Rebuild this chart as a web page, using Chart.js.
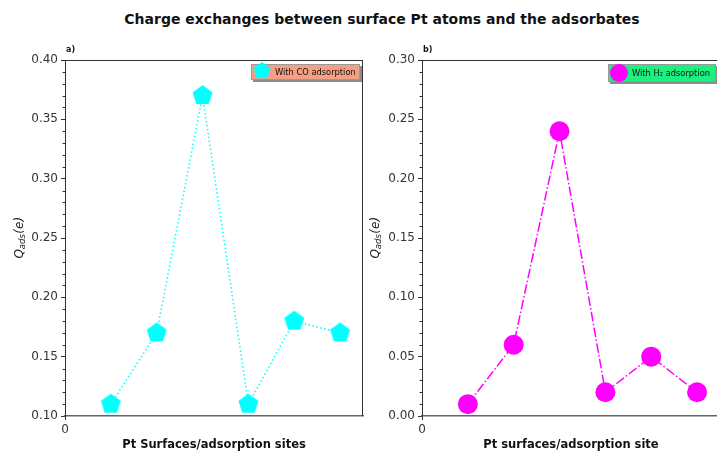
<!DOCTYPE html>
<html>
<head>
<meta charset="utf-8">
<script src="https://cdn.jsdelivr.net/npm/chart.js@4"></script>
<style>
  html, body { margin: 0; padding: 0; background: #fff; width: 717px; height: 452px; overflow: hidden; position: relative; font-family: "DejaVu Sans", sans-serif; }
  #title { position: absolute; left: 0; width: 764px; top: 11px; text-align: center; font-weight: bold; font-size: 14px; color: #111; }
  .box { position: absolute; top: 0; height: 452px; width: 375px; }
</style>
</head>
<body>
<div id="title">Charge exchanges between surface Pt atoms and the adsorbates</div>
<div class="box" style="left:0"><canvas id="chartA"></canvas></div>
<div class="box" style="left:355px"><canvas id="chartB"></canvas></div>

<script>
// data
const sites = [1, 2, 3, 4, 5, 6];
const coCharge = [0.11, 0.17, 0.37, 0.11, 0.18, 0.17];
const h2Charge = [0.01, 0.06, 0.24, 0.02, 0.05, 0.02];
const xTicks = [0];
const coTicks = [0.10, 0.15, 0.20, 0.25, 0.30, 0.35, 0.40];
const h2Ticks = [0.00, 0.05, 0.10, 0.15, 0.20, 0.25, 0.30];

Chart.defaults.font.family = "'DejaVu Sans', sans-serif";
Chart.defaults.font.size = 12;
Chart.defaults.color = "#333";

function pentagon(r, color) {
    let s = Math.ceil(2 * r) + 2;
    let c = document.createElement("canvas");
    c.width = s; c.height = s;
    let g = c.getContext("2d");
    g.fillStyle = color;
    g.beginPath();
    for (let i = 0; i < 5; i++) {
        let a = -Math.PI / 2 + i * 2 * Math.PI / 5;
        let x = s / 2 + r * Math.cos(a), y = s / 2 + r * Math.sin(a);
        i ? g.lineTo(x, y) : g.moveTo(x, y);
    }
    g.closePath();
    g.fill();
    return c;
}

const pentBig = pentagon(10.5, "#00ffff");
const pentSmall = pentagon(9, "#00ffff");

// spines, minor ticks, panel label, y title and legend
const decor = {
    id: "decor",
    afterDraw(chart, args, o) {
        const ctx = chart.ctx;
        const a = chart.chartArea;
        const y = chart.scales.y;
        ctx.save();

        ctx.strokeStyle = "#333";
        ctx.lineWidth = 1;
        ctx.beginPath();
        ctx.moveTo(a.left, a.top + 0.5);
        ctx.lineTo(a.right, a.top + 0.5);
        ctx.moveTo(a.right - 0.5, a.top);
        ctx.lineTo(a.right - 0.5, a.bottom);
        ctx.stroke();

        // minor ticks
        ctx.beginPath();
        for (let k = 0; k <= 30; k++) {
            if (k % 5 === 0) continue;
            let v = y.min + k * 0.01;
            let py = Math.round(y.getPixelForValue(v)) + 0.5;
            ctx.moveTo(a.left - 2.5, py);
            ctx.lineTo(a.left, py);
        }
        ctx.stroke();

        // panel label
        ctx.fillStyle = "#111";
        ctx.font = "bold 8px 'DejaVu Sans'";
        ctx.textAlign = "left";
        ctx.textBaseline = "alphabetic";
        ctx.fillText(o.label, a.left + 1, a.top - 8);

        // y title Q_ads(e)
        ctx.translate(a.left - o.titleOff, (a.top + a.bottom) / 2);
        ctx.rotate(-Math.PI / 2);
        const fBig = "italic 12px 'DejaVu Sans'", fSub = "italic 8.5px 'DejaVu Sans'";
        ctx.font = fBig; let w1 = ctx.measureText("Q").width;
        ctx.font = fSub; let w2 = ctx.measureText("ads").width;
        ctx.font = fBig; let w3 = ctx.measureText("(e)").width;
        let x0 = -(w1 + w2 + w3) / 2;
        ctx.fillStyle = "#222";
        ctx.textBaseline = "middle";
        ctx.font = fBig; ctx.fillText("Q", x0, 0);
        ctx.font = fSub; ctx.fillText("ads", x0 + w1, 3);
        ctx.font = fBig; ctx.fillText("(e)", x0 + w1 + w2 + 0.5, 0);
        ctx.setTransform(1, 0, 0, 1, 0, 0);

        // legend box
        const L = o.legend;
        let bx = a.right - L.right - L.w, by = a.top + 4;
        ctx.fillStyle = "rgba(0,0,0,0.45)";
        ctx.fillRect(bx + 2, by + 2, L.w, L.h);
        ctx.fillStyle = L.fill;
        ctx.fillRect(bx, by, L.w, L.h);
        ctx.strokeStyle = "#999";
        ctx.strokeRect(bx + 0.5, by + 0.5, L.w - 1, L.h - 1);
        let mx = bx + 11, my = by + L.h / 2;
        if (L.marker === "pentagon") {
            ctx.drawImage(pentSmall, mx - pentSmall.width / 2, my - pentSmall.height / 2 - 1);
        } else {
            ctx.fillStyle = "#ff00ff";
            ctx.beginPath();
            ctx.arc(mx, my, 9, 0, Math.PI * 2);
            ctx.fill();
        }
        ctx.fillStyle = "#111";
        ctx.font = "8.3px 'DejaVu Sans'";
        ctx.textBaseline = "middle";
        ctx.textAlign = "left";
        ctx.fillText(L.text, bx + 24, my + 0.5);
        ctx.restore();
    }
};

function makeChart(id, values, yTicks, opt) {
    return new Chart(document.getElementById(id), {
        type: "line",
        data: {
            datasets: [{
                data: sites.map((s, i) => ({ x: s, y: values[i] })),
                borderColor: opt.color,
                borderWidth: 1.5,
                borderDash: opt.dash,
                backgroundColor: opt.color,
                pointStyle: opt.point,
                pointRadius: 10,
                pointBorderWidth: 0,
                pointBackgroundColor: opt.color,
                tension: 0,
                fill: false
            }]
        },
        options: {
            responsive: true,
            maintainAspectRatio: false,
            animation: false,
            events: [],
            layout: { padding: { left: 0, right: opt.padRight, top: 60, bottom: 0 } },
            plugins: {
                legend: { display: false },
                tooltip: { enabled: false },
                decor: opt.decor
            },
            scales: {
                x: {
                    type: "linear",
                    min: 0, max: 6.5,
                    afterBuildTicks: s => { s.ticks = xTicks.map(v => ({ value: v })); },
                    afterFit: s => { s.height = 36; },
                    ticks: { color: "#333", padding: 3, callback: v => String(v) },
                    grid: { drawOnChartArea: false, tickLength: 4, tickColor: "#333" },
                    border: { color: "#666", width: 1.5 },
                    title: {
                        display: true, text: opt.xTitle, color: "#111",
                        font: { weight: "bold", size: 11.5 }, padding: { top: 2, bottom: 0 }
                    }
                },
                y: {
                    min: yTicks[0], max: yTicks[yTicks.length - 1],
                    afterBuildTicks: s => { s.ticks = yTicks.map(v => ({ value: v })); },
                    afterFit: s => { s.width = opt.yWidth; },
                    ticks: { color: "#333", padding: 3, callback: v => v.toFixed(2) },
                    grid: { drawOnChartArea: false, tickLength: 4, tickColor: "#333" },
                    border: { color: "#333", width: 1 }
                }
            }
        },
        plugins: [decor]
    });
}

makeChart("chartA", coCharge, coTicks, {
    color: "#00ffff", dash: [1.5, 2.5], point: pentBig, padRight: 12, yWidth: 65,
    xTitle: "Pt Surfaces/adsorption sites",
    decor: { label: "a)", titleOff: 45,
        legend: { right: 3, w: 109, h: 16, fill: "#f5a083", marker: "pentagon", text: "With CO adsorption" } }
});

makeChart("chartB", h2Charge, h2Ticks, {
    color: "#ff00ff", dash: [9.6, 2.4, 1.5, 2.4], point: "circle", padRight: 8, yWidth: 67,
    xTitle: "Pt surfaces/adsorption site",
    decor: { label: "b)", titleOff: 46,
        legend: { right: 4, w: 108, h: 18, fill: "#1ef07f", marker: "circle", text: "With H\u2082 adsorption" } }
});
</script>
</body>
</html>
